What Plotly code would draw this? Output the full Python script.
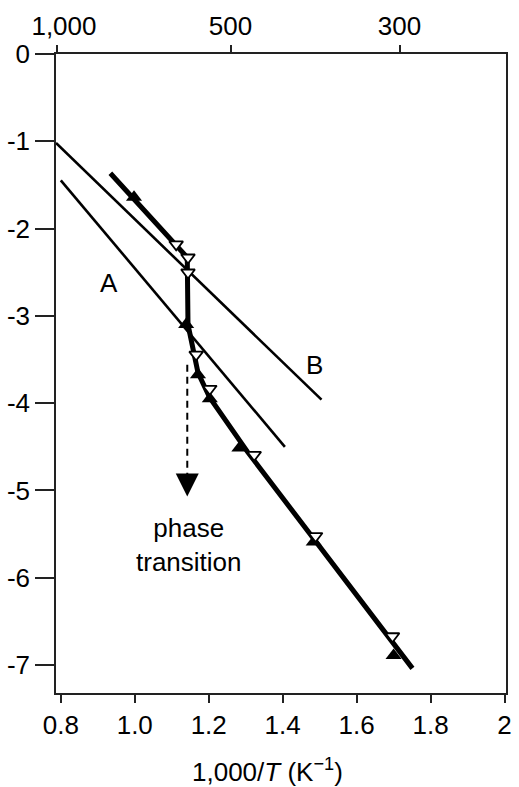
import plotly.graph_objects as go

# ---- data ----
x_range = [0.787, 2.004]
y_range = [-7.32, 0.0]

bottom_ticks = [0.8, 1.0, 1.2, 1.4, 1.6, 1.8, 2.0]
bottom_labels = ["0.8", "1.0", "1.2", "1.4", "1.6", "1.8", "2"]
top_ticks = [0.789, 1.259, 1.716]
top_labels = ["\u00a0\u00a01,000", "500", "300"]
y_ticks = [0, -1, -2, -3, -4, -5, -6, -7]
y_labels = ["0", "-1", "-2", "-3", "-4", "-5", "-6", "-7"]

line_A_x = [0.800, 1.406]
line_A_y = [-1.447, -4.50]
line_B_x = [0.787, 1.505]
line_B_y = [-1.02, -3.96]

fit_x = [0.934, 1.142, 1.144, 1.171, 1.203, 1.305, 1.751]
fit_y = [-1.366, -2.331, -3.100, -3.651, -3.938, -4.558, -7.038]

filled_x = [0.998, 1.139, 1.171, 1.203, 1.283, 1.484, 1.700]
filled_y = [-1.642, -3.100, -3.674, -3.949, -4.512, -5.591, -6.889]

open_x = [1.112, 1.144, 1.144, 1.166, 1.203, 1.323, 1.489, 1.697]
open_y = [-2.181, -2.331, -2.503, -3.444, -3.835, -4.592, -5.522, -6.670]

transition_x = 1.142
transition_y = [-3.56, -5.07]

FONT = "Liberation Sans, Arial, Helvetica, sans-serif"
FS = 26

fig = go.Figure()

fig.add_trace(go.Scatter(x=line_A_x, y=line_A_y, mode="lines",
                         line=dict(color="black", width=2.6), showlegend=False))
fig.add_trace(go.Scatter(x=line_B_x, y=line_B_y, mode="lines",
                         line=dict(color="black", width=2.6), showlegend=False))
fig.add_trace(go.Scatter(x=fit_x, y=fit_y, mode="lines",
                         line=dict(color="black", width=5), showlegend=False))
fig.add_trace(go.Scatter(x=filled_x, y=filled_y, mode="markers",
                         marker=dict(symbol="triangle-up", size=14, color="black",
                                     line=dict(width=0)), showlegend=False))
fig.add_trace(go.Scatter(x=open_x, y=open_y, mode="markers",
                         marker=dict(symbol="triangle-down", size=12, color="white",
                                     line=dict(width=1.8, color="black")), showlegend=False))

# dashed arrow for the phase transition
fig.add_shape(type="line", x0=transition_x, x1=transition_x,
              y0=transition_y[0], y1=transition_y[1] + 0.15,
              line=dict(color="black", width=2, dash="7px,5px"))
fig.add_annotation(x=transition_x, y=transition_y[1], ax=0, ay=-14,
                   axref="pixel", ayref="pixel", showarrow=True, text="",
                   arrowhead=2, arrowsize=2.3, arrowwidth=2, arrowcolor="black")

fig.add_annotation(x=0.931, y=-2.62, text="A", showarrow=False,
                   font=dict(family=FONT, size=FS, color="black"))
fig.add_annotation(x=1.486, y=-3.56, text="B", showarrow=False,
                   font=dict(family=FONT, size=FS, color="black"))
fig.add_annotation(x=1.147, y=-5.62, text="phase<br>transition", showarrow=False,
                   font=dict(family=FONT, size=FS, color="black"))

fig.add_annotation(xref="paper", yref="paper", x=0.47, y=-0.121,
                   text="1,000/<i>T</i> (K<sup>−1</sup>)", showarrow=False,
                   xanchor="center", yanchor="middle",
                   font=dict(family=FONT, size=FS, color="black"))

fig.update_layout(
    width=519, height=787,
    margin=dict(l=56, r=7, t=54, b=94),
    paper_bgcolor="white", plot_bgcolor="white",
    font=dict(family=FONT, size=FS, color="black"),
    xaxis=dict(range=x_range, tickmode="array", tickvals=bottom_ticks,
               ticktext=bottom_labels, ticks="outside", ticklen=8, tickwidth=1.5,
               tickcolor="#222", showline=True, linecolor="#222", linewidth=1.5,
               mirror=True, showgrid=False, zeroline=False,
               tickfont=dict(family=FONT, size=FS)),
    xaxis2=dict(range=x_range, overlaying="x", side="top", tickmode="array",
                tickvals=top_ticks, ticktext=top_labels, ticks="outside",
                ticklen=8, tickwidth=1.5, tickcolor="#222", showline=False,
                showgrid=False, zeroline=False, tickfont=dict(family=FONT, size=FS)),
    yaxis=dict(range=y_range, tickmode="array", tickvals=y_ticks,
               ticktext=y_labels, ticks="outside", ticklen=19, tickwidth=1.5,
               tickcolor="#222", showline=True, linecolor="#222", linewidth=1.5,
               mirror=True, showgrid=False, zeroline=False,
               tickfont=dict(family=FONT, size=FS)),
)
# invisible trace to activate top axis
fig.add_trace(go.Scatter(x=[None], y=[None], xaxis="x2", showlegend=False))

fig.write_html("out.html")
